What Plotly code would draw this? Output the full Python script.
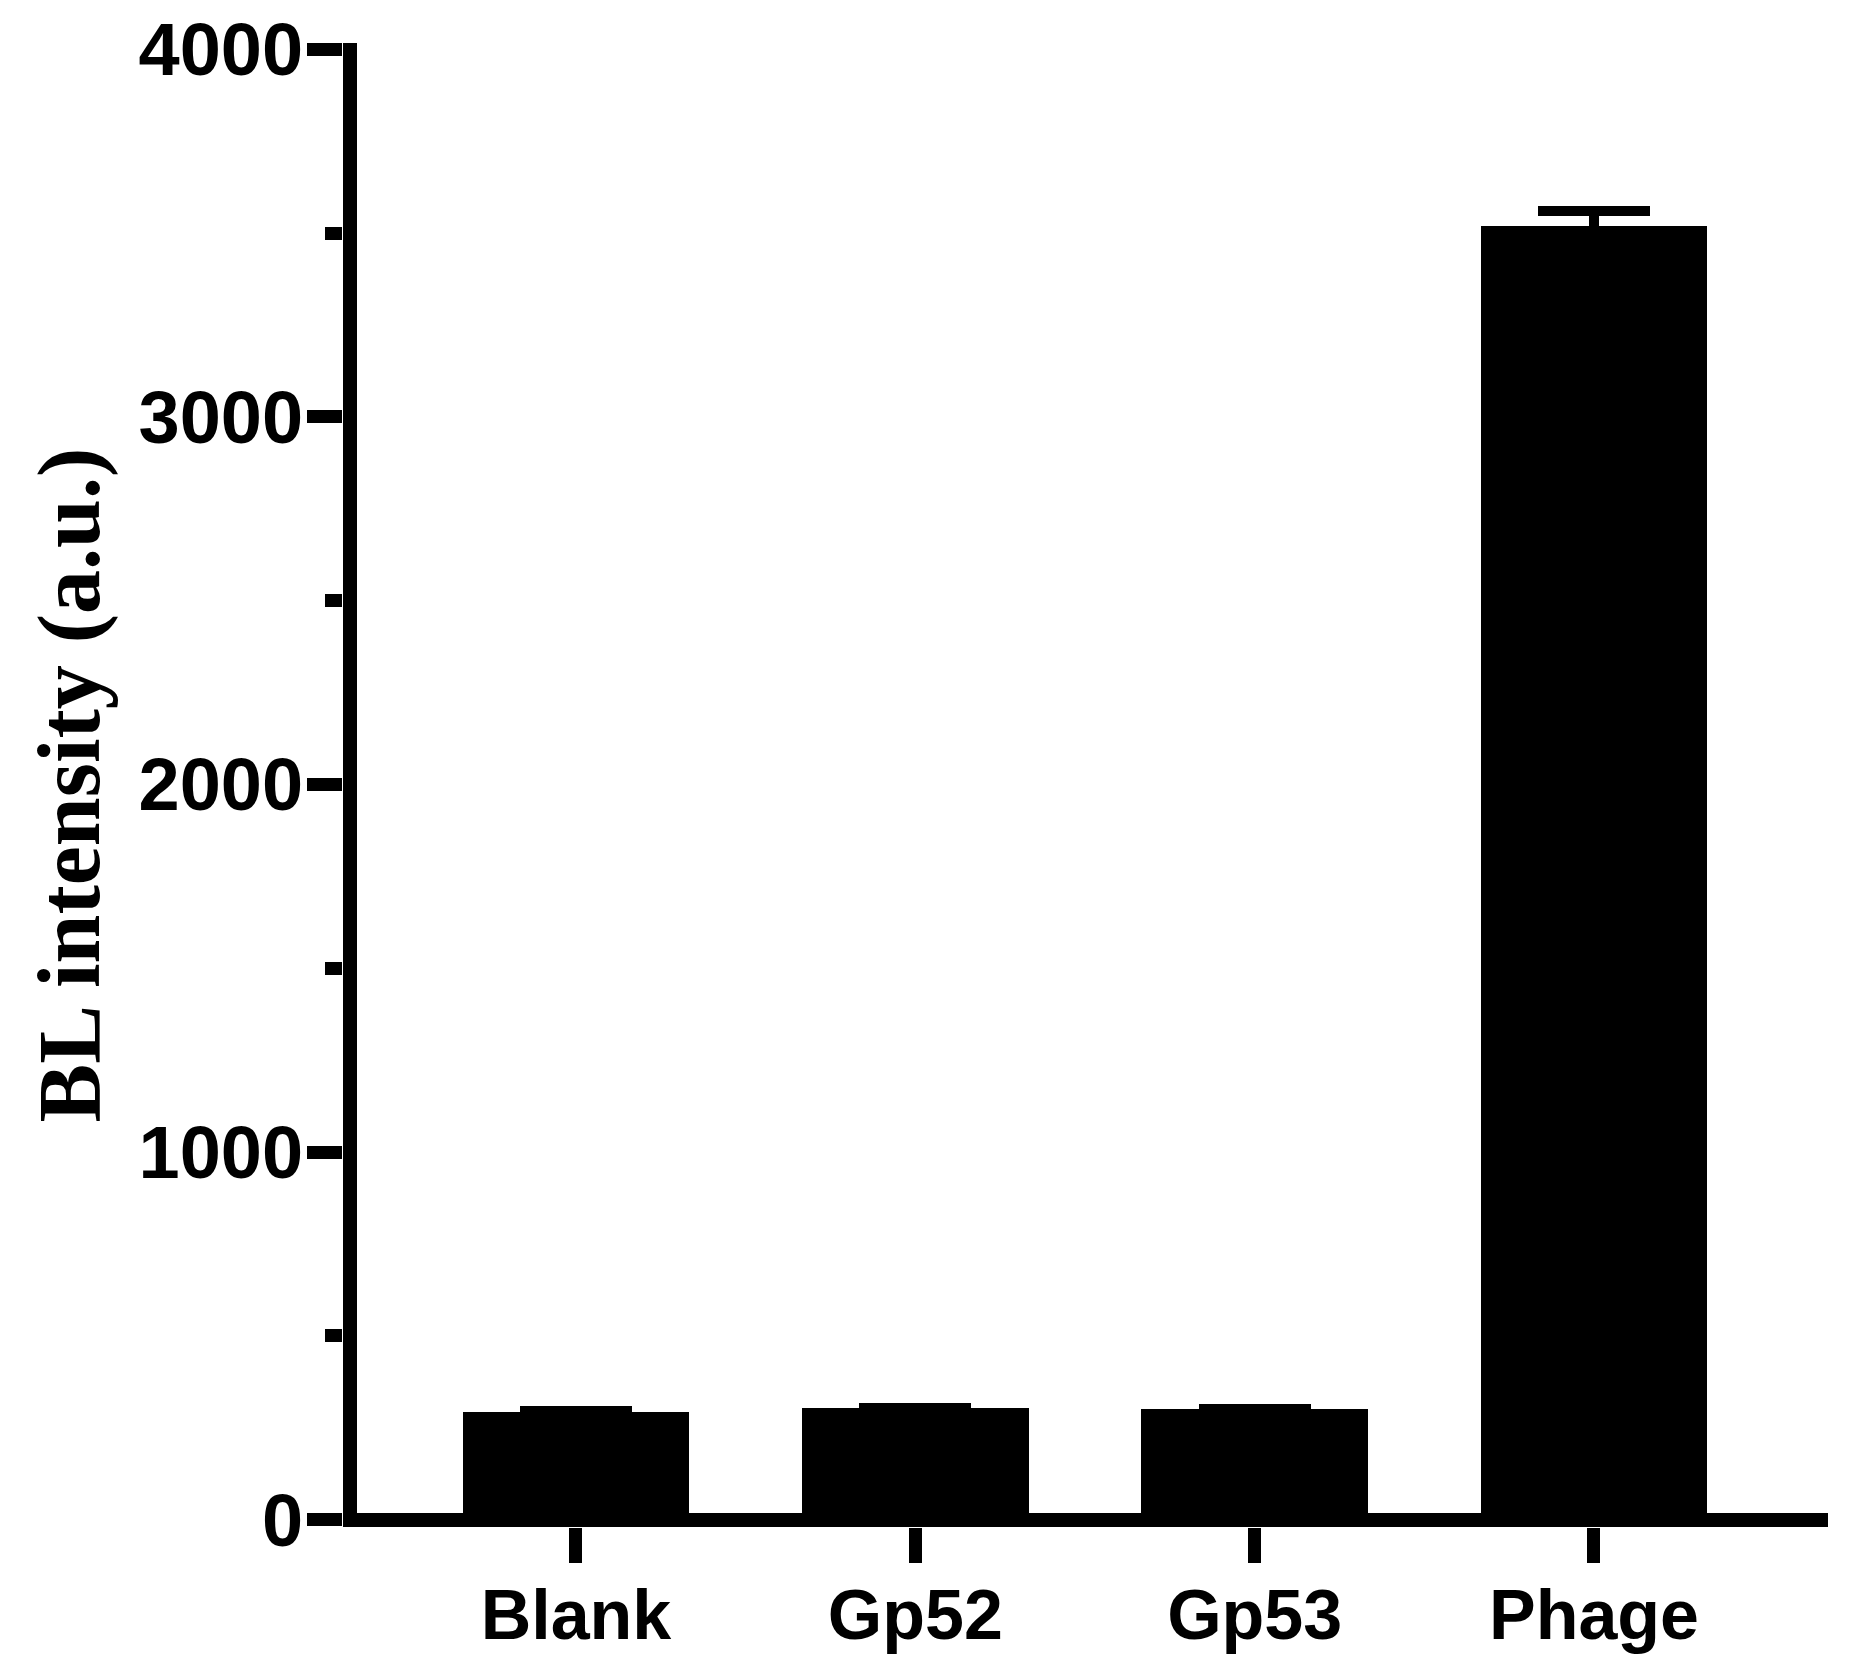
import plotly.graph_objects as go

categories = ["Blank", "Gp52", "Gp53", "Phage"]
means = [293, 304, 301, 3519]
errors = [2, 1, 1, 41]
y_tickvals = [0, 1000, 2000, 3000, 4000]
y_ticktext = ["0", "1000", "2000", "3000", "4000"]
y_title = "BL intensity (a.u.)"

# page body has an 8px default margin; figure is sized to fit inside it
W, H = 1843, 1664
ML, MR, MT, MB = 335, 23, 35, 145
PW = W - ML - MR
PH = H - MT - MB

fig = go.Figure()
fig.add_trace(go.Bar(
    x=categories, y=means, width=0.6675,
    marker=dict(color="black", line=dict(width=0)),
    error_y=dict(type="data", array=errors, symmetric=True,
                 color="black", thickness=10, width=56),
    showlegend=False,
))

fig.update_layout(
    width=W, height=H,
    margin=dict(l=ML, r=MR, t=MT, b=MB, pad=0, autoexpand=False),
    paper_bgcolor="white", plot_bgcolor="white",
    bargap=0,
    xaxis=dict(
        type="category", range=[-0.6866, 3.6896], showline=False, showgrid=False, zeroline=False,
        ticks="outside", ticklen=35, tickwidth=13, tickcolor="black",
        ticklabelstandoff=-8,
        tickfont=dict(family="Liberation Sans, Arial", size=70, color="black", weight="bold"),
        automargin=False,
    ),
    yaxis=dict(
        range=[-19.6, 4017.1], showline=False, showgrid=False, zeroline=False,
        tickvals=y_tickvals, ticktext=y_ticktext,
        ticks="outside", ticklen=35, tickwidth=13, tickcolor="black",
        ticklabelstandoff=-11,
        minor=dict(dtick=500, tick0=0, ticks="outside", ticklen=17, tickwidth=13, tickcolor="black", showgrid=False),
        tickfont=dict(family="Liberation Sans, Arial", size=74, color="black", weight="bold"),
        automargin=False,
    ),
    annotations=[dict(
        text=y_title, xref="paper", yref="paper", x=(60.5 - ML) / PW, y=0.5,
        xanchor="center", yanchor="middle", textangle=-90, showarrow=False,
        font=dict(family="Liberation Serif, Times New Roman", size=88, color="black", weight="bold"),
    )],
    shapes=[
        dict(type="rect", xref="paper", yref="paper", x0=0, x1=14 / PW, y0=0, y1=1,
             fillcolor="black", line=dict(width=0), layer="above"),
        dict(type="rect", xref="paper", yref="paper", x0=0, x1=1, y0=0, y1=14 / PH,
             fillcolor="black", line=dict(width=0), layer="above"),
    ],
)

fig.write_html("out.html")
